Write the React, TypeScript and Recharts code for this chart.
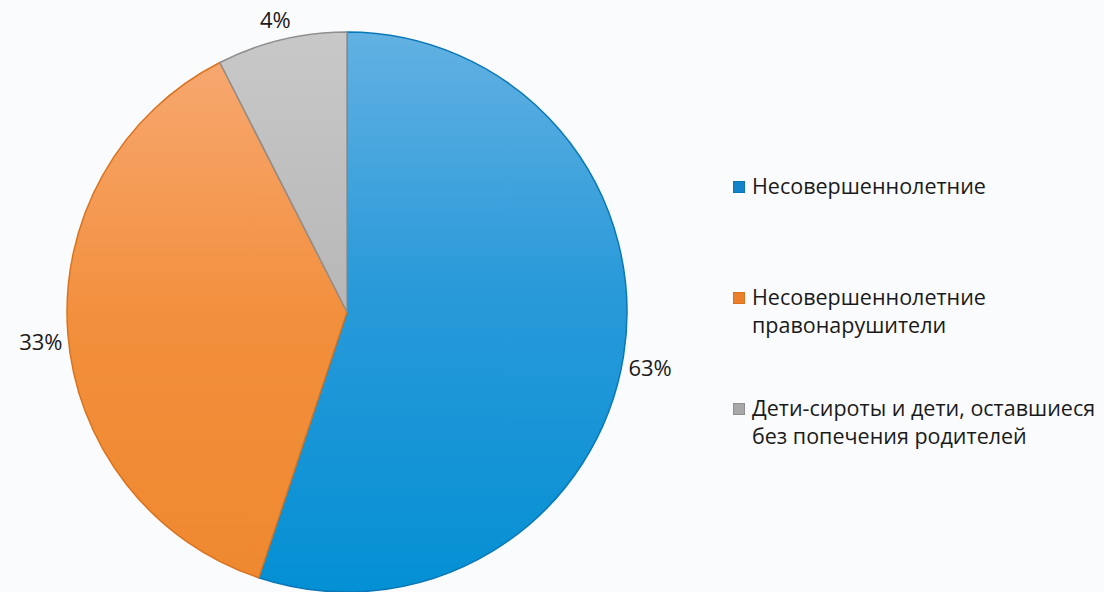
import React from "react";
import { PieChart, Pie, Cell, Legend } from "recharts";

// slice sizes; printed labels are the source's own numbers
const categories = [
  "Несовершеннолетние",
  "Несовершеннолетние правонарушители",
  "Дети-сироты и дети, оставшиеся без попечения родителей",
];
const legendLines = [
  ["Несовершеннолетние"],
  ["Несовершеннолетние", "правонарушители"],
  ["Дети-сироты и дети, оставшиеся", "без попечения родителей"],
];
const sliceValues = [55.1, 37.4, 7.5];
const sliceLabels = ["63%", "33%", "4%"];
const gradIds = ["gBlue", "gOrange", "gGray"];
const swatch = ["#1283c8", "#ec7f2c", "#a8a8a8"];
const edge = ["#0a78b8", "#d9731f", "#8f8f8f"];

const data = categories.map((name, i) => ({ name, value: sliceValues[i] }));

if (typeof document !== "undefined") document.body.style.margin = "0";

const RAD = Math.PI / 180;
const FONT = "'Open Sans', 'DejaVu Sans', sans-serif";

function PctLabel({ cx, cy, midAngle, outerRadius, index }: any) {
  const r = outerRadius + 27;
  const x = cx + r * Math.cos(-midAngle * RAD);
  const y = cy + r * Math.sin(-midAngle * RAD) + 6;
  return (
    <text
      x={x}
      y={y}
      textAnchor="middle"
      dominantBaseline="central"
      fontSize={22}
      fontFamily={FONT}
      fill="#1a1a1a"
    >
      {sliceLabels[index]}
    </text>
  );
}

function LegendBox() {
  return (
    <div style={{ fontFamily: FONT, fontSize: 21.5, color: "#1a1a1a", lineHeight: "28px" }}>
      {legendLines.map((lines, i) => (
        <div key={i} style={{ display: "flex", marginBottom: i < 2 ? (lines.length > 1 ? 55 : 83) : 0 }}>
          <div
            style={{
              width: 12,
              height: 12,
              marginTop: 9,
              marginRight: 7,
              background: swatch[i],
              border: "1px solid " + edge[i],
              boxSizing: "border-box",
            }}
          />
          <div>
            {lines.map((l) => (
              <div key={l}>{l}</div>
            ))}
          </div>
        </div>
      ))}
    </div>
  );
}

export default function App() {
  return (
    <div style={{ width: 1104, height: 592, background: "#fafbfd", overflow: "hidden" }}>
      <PieChart width={1104} height={592} margin={{ top: 0, right: 0, bottom: 0, left: 0 }}>
        <defs>
          <linearGradient id="gBlue" x1="0" y1="0" x2="0" y2="1">
            <stop offset="0%" stopColor="#62b1e2" />
            <stop offset="45%" stopColor="#2a9ad9" />
            <stop offset="100%" stopColor="#0490d4" />
          </linearGradient>
          <linearGradient id="gOrange" x1="0" y1="0" x2="0" y2="1">
            <stop offset="0%" stopColor="#f7a76f" />
            <stop offset="50%" stopColor="#f28f3c" />
            <stop offset="100%" stopColor="#ef8930" />
          </linearGradient>
          <linearGradient id="gGray" x1="0" y1="0" x2="0" y2="1">
            <stop offset="0%" stopColor="#c9c8c8" />
            <stop offset="100%" stopColor="#b8b7b7" />
          </linearGradient>
        </defs>
        <Pie
          data={data}
          dataKey="value"
          nameKey="name"
          cx={347}
          cy={312}
          outerRadius={280}
          startAngle={90}
          endAngle={-270}
          label={PctLabel}
          labelLine={false}
          isAnimationActive={false}
        >
          {data.map((d, i) => (
            <Cell key={d.name} fill={`url(#${gradIds[i]})`} stroke={edge[i]} strokeWidth={1.5} />
          ))}
        </Pie>
        <Legend
          content={<LegendBox />}
          layout="vertical"
          verticalAlign="top"
          align="right"
          wrapperStyle={{ left: 733, top: 172, width: 371 }}
        />
      </PieChart>
    </div>
  );
}
